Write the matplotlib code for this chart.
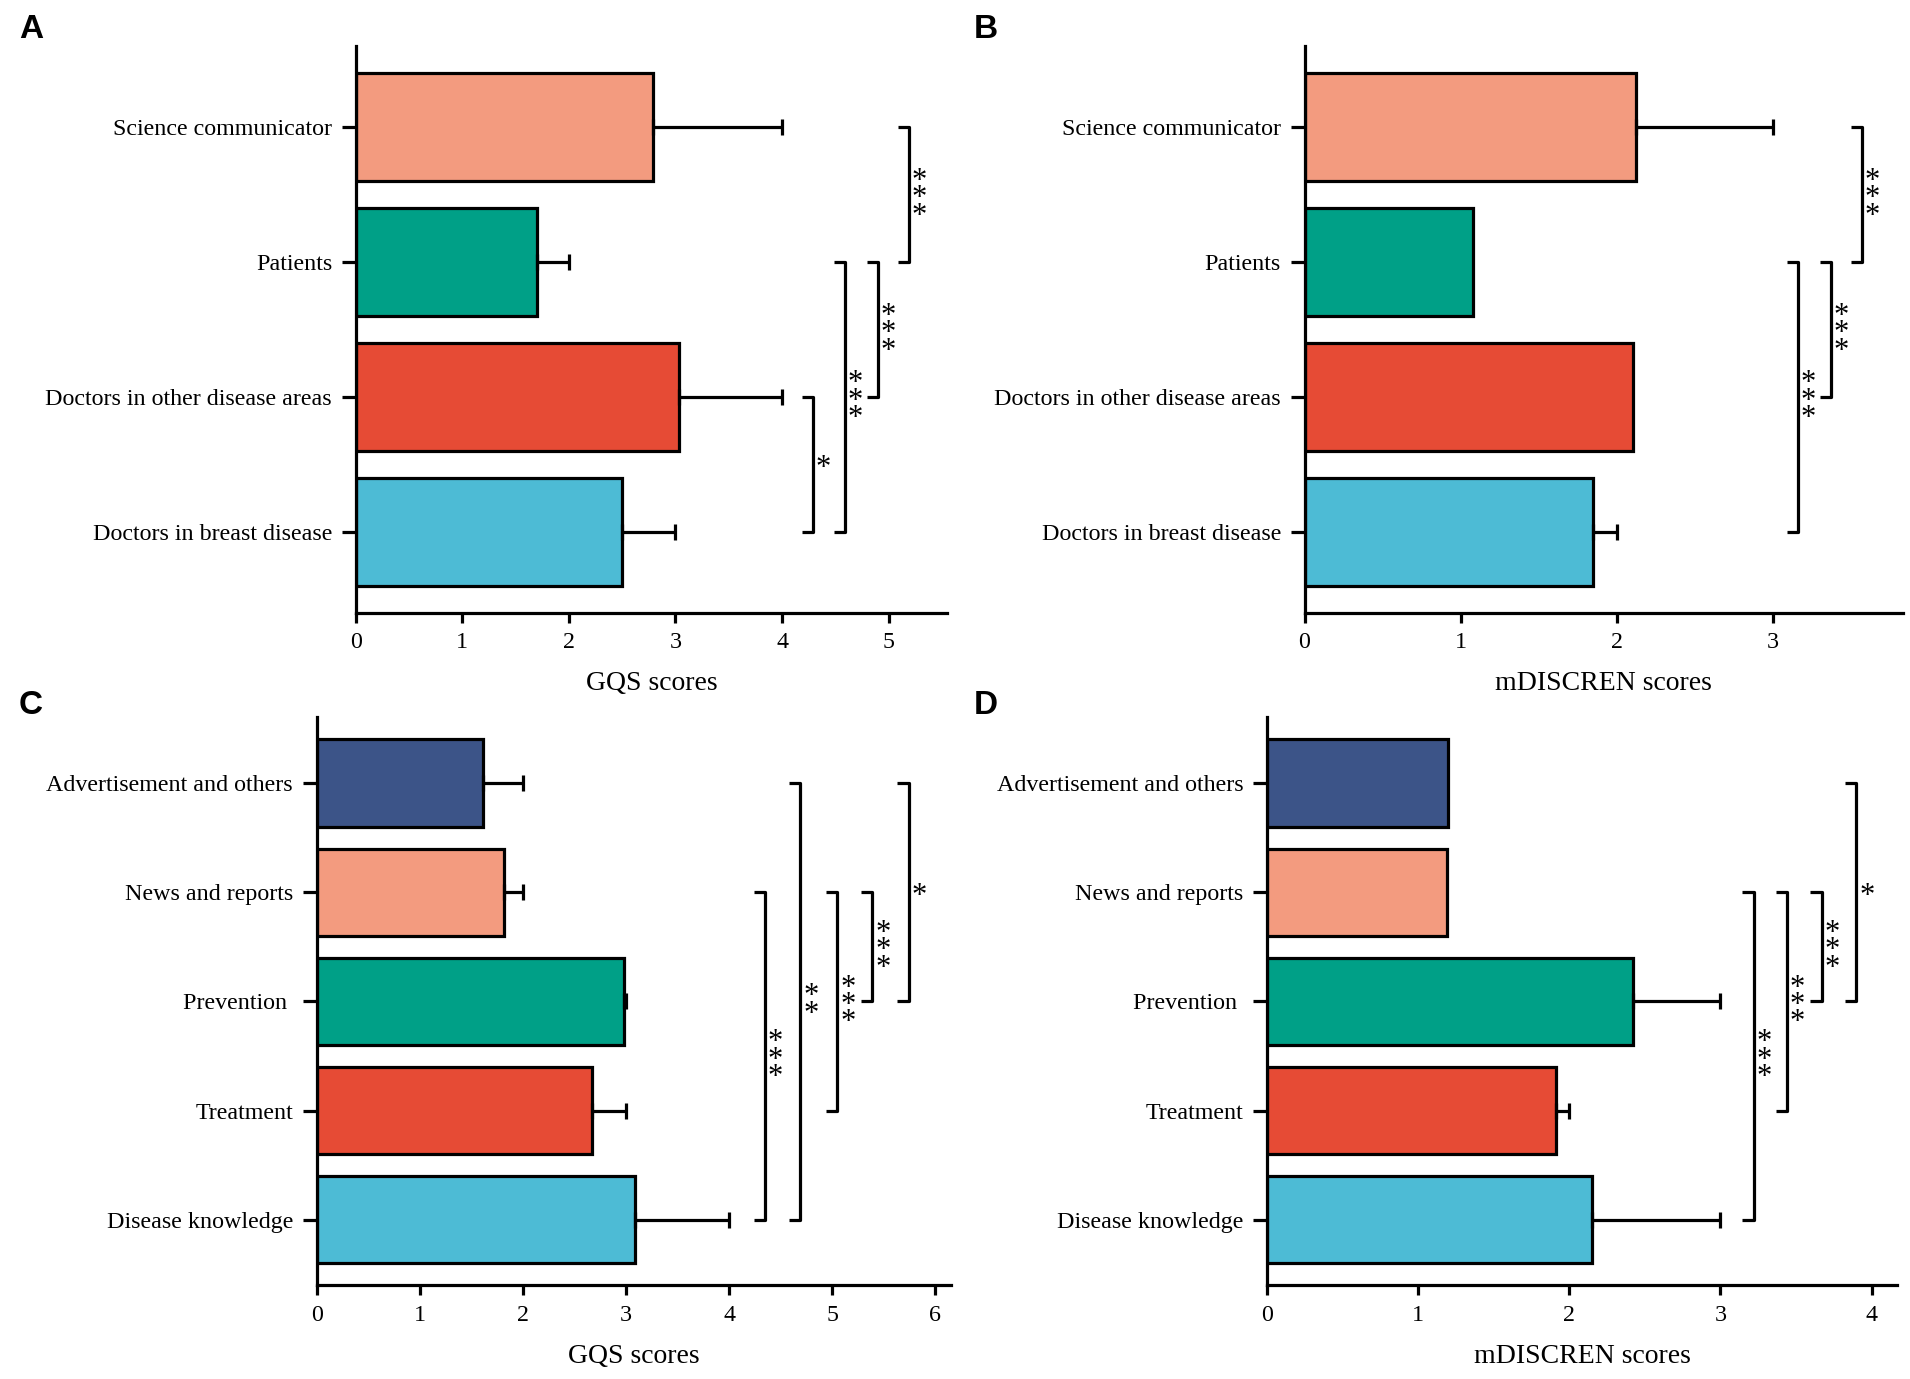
"""Four-panel horizontal bar chart: GQS and mDISCERN scores by source and by content type."""

import matplotlib.pyplot as plt
import numpy as np

# ---- data -------------------------------------------------------------
sources = ["Science communicator", "Patients",
           "Doctors in other disease areas", "Doctors in breast disease"]
gqs_source = [2.79, 1.70, 3.03, 2.50]
gqs_source_hi = [4.0, 2.0, 4.0, 3.0]
dis_source = [2.12, 1.08, 2.10, 1.85]
dis_source_hi = [3.0, np.nan, np.nan, 2.0]

types = ["Advertisement and others", "News and reports", "Prevention ",
         "Treatment", "Disease knowledge"]
gqs_type = [1.61, 1.82, 2.98, 2.67, 3.09]
gqs_type_hi = [2.0, 2.0, 3.0, 3.0, 4.0]
dis_type = [1.20, 1.19, 2.42, 1.91, 2.15]
dis_type_hi = [np.nan, np.nan, 3.0, 2.0, 3.0]

# (row i, row j, bracket x, stars)
sig_a = [(0, 1, 5.19, "***"), (1, 2, 4.90, "***"), (1, 3, 4.59, "***"), (2, 3, 4.29, "*")]
sig_b = [(0, 1, 3.57, "***"), (1, 2, 3.37, "***"), (1, 3, 3.16, "***")]
sig_c = [(1, 4, 4.35, "***"), (0, 4, 4.69, "**"), (1, 3, 5.05, "***"),
         (1, 2, 5.39, "***"), (0, 2, 5.74, "*")]
sig_d = [(1, 4, 3.22, "***"), (1, 3, 3.44, "***"), (1, 2, 3.67, "***"), (0, 2, 3.90, "*")]

NAVY, SALMON, TEAL, RED, CYAN = "#3C5488", "#F39B7F", "#00A087", "#E64B35", "#4DBBD5"
colors_source = [SALMON, TEAL, RED, CYAN]
colors_type = [NAVY, SALMON, TEAL, RED, CYAN]

plt.rcParams["font.family"] = ["Liberation Serif", "DejaVu Serif"]
LW = 2.3


def panel(ax, labels, vals, hi, colors, sigs, xmax, xticks, xlabel):
    y = np.arange(len(labels))
    vals = np.asarray(vals, dtype=float)
    hi = np.asarray(hi, dtype=float)

    ax.barh(y, vals, height=0.8, color=colors, edgecolor="black", linewidth=LW, zorder=2)
    m = np.isfinite(hi)
    ax.errorbar(vals[m], y[m], xerr=[np.zeros(m.sum()), hi[m] - vals[m]],
                fmt="none", ecolor="black", elinewidth=LW, capsize=6, capthick=LW, zorder=3)

    tick = xmax * 0.018
    for i, j, x, stars in sigs:
        ax.plot([x - tick, x, x, x - tick], [y[i], y[i], y[j], y[j]],
                color="black", lw=LW, solid_capstyle="butt", clip_on=False)
        # stars stacked upright, one above the other
        ax.annotate("\n".join(stars), (x, (y[i] + y[j]) / 2), xytext=(2, -3),
                    textcoords="offset points", ha="left", va="center",
                    fontsize=22, linespacing=0.47, multialignment="center")

    ax.set_ylim(len(labels) - 1 + 0.6, -0.6)
    ax.set_xlim(0, xmax)
    ax.set_yticks(y)
    ax.set_yticklabels(labels)
    ax.set_xticks(xticks)
    ax.set_xlabel(xlabel, fontsize=20, labelpad=13)
    for s in ("top", "right"):
        ax.spines[s].set_visible(False)
    for s in ("left", "bottom"):
        ax.spines[s].set_linewidth(LW)
    ax.tick_params(axis="y", length=10, width=LW, pad=7, labelsize=17.3)
    ax.tick_params(axis="x", length=7, width=LW, pad=7, labelsize=17.3)


fig = plt.figure(figsize=(19.1, 13.79), dpi=100)
ax_a = fig.add_axes([0.1862, 0.5557, 0.3098, 0.4107])
ax_b = fig.add_axes([0.6830, 0.5557, 0.3132, 0.4107])
ax_c = fig.add_axes([0.1658, 0.0680, 0.3320, 0.4117])
ax_d = fig.add_axes([0.6633, 0.0680, 0.3300, 0.4117])

panel(ax_a, sources, gqs_source, gqs_source_hi, colors_source, sig_a, 5.55, range(6), "GQS scores")
panel(ax_b, sources, dis_source, dis_source_hi, colors_source, sig_b, 3.83, range(4), "mDISCREN scores")
panel(ax_c, types, gqs_type, gqs_type_hi, colors_type, sig_c, 6.15, range(7), "GQS scores")
panel(ax_d, types, dis_type, dis_type_hi, colors_type, sig_d, 4.17, range(5), "mDISCREN scores")

for letter, x, y in (("A", 0.010, 0.990), ("B", 0.510, 0.990), ("C", 0.010, 0.500), ("D", 0.510, 0.500)):
    fig.text(x, y, letter, family=["Liberation Sans", "DejaVu Sans"], fontweight="bold",
             fontsize=24, ha="left", va="top")

fig.savefig("out.png", dpi=100, facecolor="white")
